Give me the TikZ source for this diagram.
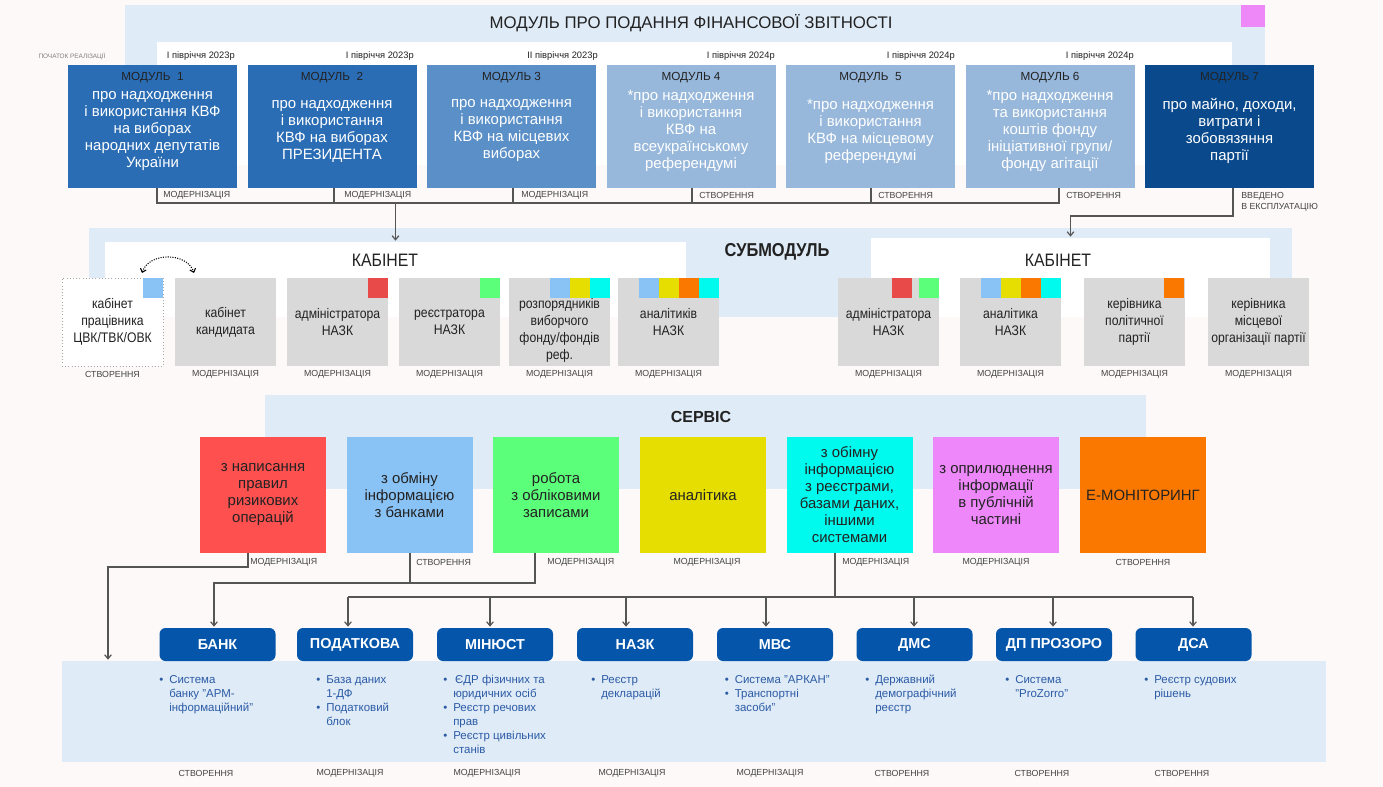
\documentclass[tikz,border=0pt]{standalone}
\usepackage{fontspec}
\setmainfont{Liberation Sans}
\newfontfamily\condf[FakeStretch=0.88]{Liberation Sans}
\usetikzlibrary{arrows.meta,calc}
\newcommand\myfs[2]{\fontsize{#1}{#2}\selectfont}
\newcommand\bul{\makebox[7.5pt][l]{•}}
\newcommand\ind{\hspace*{7.5pt}}
\newcommand\sqat[3]{\fill[#3] ($(#1.north east)+(-#2-20,0)$) rectangle ($(#1.north east)+(-#2,20)$);}
\definecolor{bgc}{HTML}{FCF9F8}
\definecolor{lbp}{HTML}{DFEBF7}
\definecolor{mA}{HTML}{2A6DB5}
\definecolor{mB}{HTML}{5A8FC8}
\definecolor{mC}{HTML}{97B8DB}
\definecolor{mD}{HTML}{0A4A8C}
\definecolor{pinkc}{HTML}{EE88F8}
\definecolor{grayb}{HTML}{D9D9D9}
\definecolor{sqblue}{HTML}{89C2F5}
\definecolor{sqred}{HTML}{E84A4A}
\definecolor{sqgreen}{HTML}{5CFF7A}
\definecolor{sqyellow}{HTML}{E5DE00}
\definecolor{sqcyan}{HTML}{00FAEE}
\definecolor{sqorange}{HTML}{FA7800}
\definecolor{sred}{HTML}{FF5050}
\definecolor{spink}{HTML}{EE88FA}
\definecolor{navyb}{HTML}{0556AA}
\definecolor{bultext}{HTML}{2C5BA6}
\definecolor{txtd}{HTML}{222222}
\definecolor{lbl}{HTML}{444444}
\definecolor{linec}{HTML}{555555}
\begin{document}
\begin{tikzpicture}[x=0.75pt,y=-0.75pt,
  modbox/.style={inner sep=0,outer sep=0,minimum width=126.75pt,minimum height=92.25pt},
  mtitle/.style={font=\myfs{8.8}{10},text=txtd,inner sep=0},
  mbody/.style={font=\myfs{11.2}{12.75},text=white,align=center,inner sep=0},
  hy/.style={font=\myfs{7}{8},text=txtd,inner sep=0},
  st/.style={font=\myfs{6.6}{8},text=lbl,inner sep=0},
  cabbox/.style={inner sep=0,outer sep=0,minimum width=75.75pt,minimum height=66pt,fill=grayb,align=center,font=\condf\myfs{10.4}{12.75},text=txtd},
  cabtext/.style={inner sep=0,align=center,font=\condf\myfs{10.4}{12.75},text=txtd},
  svcbox/.style={inner sep=0,outer sep=0,minimum width=94.5pt,minimum height=87pt,align=center,font=\myfs{11.2}{12.75},text=txtd},
  orgbox/.style={fill=navyb,rounded corners=4.5pt,inner sep=0,outer sep=0,minimum width=87pt,minimum height=24.75pt,text=white,font=\bfseries\myfs{10.8}{12}},
  bullist/.style={anchor=north west,inner sep=0,align=left,text=bultext,font=\myfs{8.6}{10.5}},
  line/.style={draw=linec,line width=0.9pt},
  arr/.style={line,-{Straight Barb[length=3pt,width=5pt]},shorten >=1pt}]
\fill[bgc] (0,0) rectangle (1383,787);
\useasboundingbox (0,0) rectangle (1383,787);

% ---------- top panel ----------
\fill[lbp] (125,5) rectangle (1265,165);
\fill[white] (157,42) rectangle (1232,165);
\fill[pinkc] (1241,5) rectangle (1265,27);
\node[font=\myfs{12.6}{14},text=txtd] (title) at (691,23) {МОДУЛЬ ПРО ПОДАННЯ ФІНАНСОВОЇ ЗВІТНОСТІ};
\node[font=\myfs{4.8}{6},text=gray] (start) at (72,56) {ПОЧАТОК РЕАЛІЗАЦІЇ};

\node[hy,anchor=east] (h1) at (235,56) {І півріччя 2023р};
\node[hy,anchor=east] (h2) at (414,56) {І півріччя 2023р};
\node[hy,anchor=east] (h3) at (598,56) {ІІ півріччя 2023р};
\node[hy,anchor=east] (h4) at (775,56) {І півріччя 2024р};
\node[hy,anchor=east] (h5) at (955,56) {І півріччя 2024р};
\node[hy,anchor=east] (h6) at (1134,56) {І півріччя 2024р};

\node[modbox,fill=mA] (m1) at (152.5,126.5) {};
\node[modbox,fill=mA] (m2) at (332,126.5) {};
\node[modbox,fill=mB] (m3) at (511.5,126.5) {};
\node[modbox,fill=mC] (m4) at (691,126.5) {};
\node[modbox,fill=mC] (m5) at (870.5,126.5) {};
\node[modbox,fill=mC] (m6) at (1050,126.5) {};
\node[modbox,fill=mD] (m7) at (1229.5,126.5) {};

\node[mtitle] (m1t) at (152.5,78) {МОДУЛЬ\ \ 1};
\node[mtitle] (m2t) at (332,78) {МОДУЛЬ\ \ 2};
\node[mtitle] (m3t) at (511.5,78) {МОДУЛЬ 3};
\node[mtitle] (m4t) at (691,78) {МОДУЛЬ 4};
\node[mtitle] (m5t) at (870.5,78) {МОДУЛЬ\ \ 5};
\node[mtitle] (m6t) at (1050,78) {МОДУЛЬ 6};
\node[mtitle] (m7t) at (1229.5,78) {МОДУЛЬ 7};

\node[mbody] (m1b) at (152.5,131) {про надходження\\і використання КВФ\\на виборах\\народних депутатів\\України};
\node[mbody] (m2b) at (332,131) {про надходження\\і використання\\КВФ на виборах\\ПРЕЗИДЕНТА};
\node[mbody] (m3b) at (511.5,131) {про надходження\\і використання\\КВФ на місцевих\\виборах};
\node[mbody] (m4b) at (691,131) {*про надходження\\і використання\\КВФ на\\всеукраїнському\\референдумі};
\node[mbody] (m5b) at (870.5,131) {*про надходження\\і використання\\КВФ на місцевому\\референдумі};
\node[mbody] (m6b) at (1050,131) {*про надходження\\та використання\\коштів фонду\\ініціативної групи/\\фонду агітації};
\node[mbody] (m7b) at (1229.5,131) {про майно, доходи,\\витрати і\\зобовязяння\\партії};

\node[st,anchor=west] (l1) at (163,195) {МОДЕРНІЗАЦІЯ};
\node[st,anchor=west] (l2) at (344,195) {МОДЕРНІЗАЦІЯ};
\node[st,anchor=west] (l3) at (521,195) {МОДЕРНІЗАЦІЯ};
\node[st,anchor=west] (l4) at (699,195) {СТВОРЕННЯ};
\node[st,anchor=west] (l5) at (878,195) {СТВОРЕННЯ};
\node[st,anchor=west] (l6) at (1066,195) {СТВОРЕННЯ};
\node[st,anchor=north west,align=left,font=\myfs{6.6}{8.3}] (l7) at (1241,192) {ВВЕДЕНО\\В ЕКСПЛУАТАЦІЮ};

% ---------- submodule ----------
\fill[lbp] (89,228) rectangle (1292,317);
\node[fill=white,inner sep=0,outer sep=0,minimum width=435.75pt,minimum height=56.25pt] (cabL) at (395.5,279.5) {};
\node[fill=white,inner sep=0,outer sep=0,minimum width=299.25pt,minimum height=59.25pt] (cabR) at (1070.5,277.5) {};
\node[font=\condf\myfs{13.5}{15},text=txtd] (cabLt) at (385,260) {КАБІНЕТ};
\node[font=\condf\myfs{13.5}{15},text=txtd] (cabRt) at (1058,260) {КАБІНЕТ};
\node[font=\bfseries\condf\myfs{14}{16},text=txtd] (sub) at (777,252) {СУБМОДУЛЬ};

\node[cabbox,fill=white,draw=gray!70,dotted] (c1) at (112.5,322) {кабінет\\працівника\\ЦВК/ТВК/ОВК};
\node[cabbox] (c2) at (225.5,322) {кабінет\\кандидата};
\node[cabbox] (c3) at (337.5,322) {адміністратора\\НАЗК};
\node[cabbox] (c4) at (449.5,322) {реєстратора\\НАЗК};
\node[cabbox] (c5) at (559.5,322) {};
\node[cabtext] (c5t) at (559.5,330.5) {розпорядників\\виборчого\\фонду/фондів\\реф.};
\node[cabbox] (c6) at (668.5,322) {аналітиків\\НАЗК};
\node[cabbox] (d1) at (888.5,322) {адміністратора\\НАЗК};
\node[cabbox] (d2) at (1010.5,322) {аналітика\\НАЗК};
\node[cabbox] (d3) at (1134.5,322) {керівника\\політичної\\партії};
\node[cabbox] (d4) at (1258.5,322) {керівника\\місцевої\\організації партії};

\sqat{c1}{0}{sqblue}
\sqat{c3}{0}{sqred}
\sqat{c4}{0}{sqgreen}
\sqat{c5}{40}{sqblue}\sqat{c5}{20}{sqyellow}\sqat{c5}{0}{sqcyan}
\sqat{c6}{60}{sqblue}\sqat{c6}{40}{sqyellow}\sqat{c6}{20}{sqorange}\sqat{c6}{0}{sqcyan}
\sqat{d1}{27}{sqred}\sqat{d1}{0}{sqgreen}
\sqat{d2}{60}{sqblue}\sqat{d2}{40}{sqyellow}\sqat{d2}{20}{sqorange}\sqat{d2}{0}{sqcyan}
\sqat{d3}{1}{sqorange}

\coordinate (yc) at (0,374);
\node[st] (lc1) at (c1 |- yc) {СТВОРЕННЯ};
\node[st] (lc2) at (c2 |- yc) {МОДЕРНІЗАЦІЯ};
\node[st] (lc3) at (c3 |- yc) {МОДЕРНІЗАЦІЯ};
\node[st] (lc4) at (c4 |- yc) {МОДЕРНІЗАЦІЯ};
\node[st] (lc5) at (c5 |- yc) {МОДЕРНІЗАЦІЯ};
\node[st] (lc6) at (c6 |- yc) {МОДЕРНІЗАЦІЯ};
\node[st] (ld1) at (d1 |- yc) {МОДЕРНІЗАЦІЯ};
\node[st] (ld2) at (d2 |- yc) {МОДЕРНІЗАЦІЯ};
\node[st] (ld3) at (d3 |- yc) {МОДЕРНІЗАЦІЯ};
\node[st] (ld4) at (d4 |- yc) {МОДЕРНІЗАЦІЯ};

\draw[densely dotted,line width=0.8pt,{Straight Barb[length=2.5pt,width=4.5pt]}-{Straight Barb[length=2.5pt,width=4.5pt]}]
  ($(c1.north east)+(-21,-5)$) .. controls ($(c1.north east)+(-14,-26)$) and ($(c2.north west)+(12,-26)$) .. ($(c2.north west)+(19,-5)$);

% ---------- service ----------
\fill[lbp] (265,395) rectangle (1146,489);
\node[font=\bfseries\myfs{12}{14},text=txtd] (svc) at (701,417) {СЕРВІС};

\node[svcbox,fill=sred] (v1) at (263,495) {з написання\\правил\\ризикових\\операцій};
\node[svcbox,fill=sqblue] (v2) at (409.5,495) {з обміну\\інформацією\\з банками};
\node[svcbox,fill=sqgreen] (v3) at (556,495) {робота\\з обліковими\\записами};
\node[svcbox,fill=sqyellow] (v4) at (703,495) {аналітика};
\node[svcbox,fill=sqcyan] (v5) at (849.5,495) {з обімну\\інформацією\\з реєстрами,\\базами даних,\\іншими\\системами};
\node[svcbox,fill=spink] (v6) at (996,495) {з оприлюднення\\інформації\\в публічній\\частині};
\node[svcbox,fill=sqorange] (v7) at (1143,495) {Е-МОНІТОРИНГ};

\node[st,anchor=west] (lv1) at (250,562) {МОДЕРНІЗАЦІЯ};
\node[st,anchor=west] (lv2) at (416,562) {СТВОРЕННЯ};
\node[st,anchor=west] (lv3) at (547,562) {МОДЕРНІЗАЦІЯ};
\node[st] (lv4) at (707,562) {МОДЕРНІЗАЦІЯ};
\node[st,anchor=west] (lv5) at (842,562) {МОДЕРНІЗАЦІЯ};
\node[st] (lv6) at (996,562) {МОДЕРНІЗАЦІЯ};
\node[st] (lv7) at (1143,562) {СТВОРЕННЯ};

% ---------- bottom ----------
\node[fill=lbp,inner sep=0,outer sep=0,minimum width=948pt,minimum height=75.75pt] (bpanel) at (694,711.5) {};

\node[orgbox] (o1) at (217.5,644.5) {БАНК};
\node[orgbox] (o2) at (355,644.5) {ПОДАТКОВА};
\node[orgbox] (o3) at (495,644.5) {МІНЮСТ};
\node[orgbox] (o4) at (635,644.5) {НАЗК};
\node[orgbox] (o5) at (775,644.5) {МВС};
\node[orgbox] (o6) at (914.5,644.5) {ДМС};
\node[orgbox] (o7) at (1054,644.5) {ДП ПРОЗОРО};
\node[orgbox] (o8) at (1193.5,644.5) {ДСА};

\node[bullist] (t1) at (159,675) {\bul Система\\\ind банку "АРМ-\\\ind інформаційний"};
\node[bullist] (t2) at (316,675) {\bul База даних\\\ind 1-ДФ\\\bul Податковий\\\ind блок};
\node[bullist] (t3) at (443,675) {\bul\,ЄДР фізичних та\\\ind юридичних осіб\\\bul Реєстр речових\\\ind прав\\\bul Реєстр цивільних\\\ind станів};
\node[bullist] (t4) at (591,675) {\bul Реєстр\\\ind декларацій};
\node[bullist] (t5) at (724.5,675) {\bul Система "АРКАН"\\\bul Транспортні\\\ind засоби"};
\node[bullist] (t6) at (865,675) {\bul Державний\\\ind демографічний\\\ind реєстр};
\node[bullist] (t7) at (1005,675) {\bul Система\\\ind "ProZorro"};
\node[bullist] (t8) at (1144,675) {\bul Реєстр судових\\\ind рішень};

\node[st] (lo1) at (206,773) {СТВОРЕННЯ};
\node[st] (lo2) at (350,773) {МОДЕРНІЗАЦІЯ};
\node[st] (lo3) at (487,773) {МОДЕРНІЗАЦІЯ};
\node[st] (lo4) at (632,773) {МОДЕРНІЗАЦІЯ};
\node[st] (lo5) at (770,773) {МОДЕРНІЗАЦІЯ};
\node[st] (lo6) at (902,773) {СТВОРЕННЯ};
\node[st] (lo7) at (1042,773) {СТВОРЕННЯ};
\node[st] (lo8) at (1182,773) {СТВОРЕННЯ};

% ---------- connectors ----------
\coordinate (b1) at (157,203);
\coordinate (b2) at (334,203);
\coordinate (b3) at (513,203);
\coordinate (b4) at (692,203);
\coordinate (b5) at (871,203);
\coordinate (b6) at (1059,203);
\draw[line] (m1.south -| b1) -- (b1) -- (b6) -- (m6.south -| b6);
\draw[line] (m2.south -| b2) -- (b2);
\draw[line] (m3.south -| b3) -- (b3);
\draw[line] (m4.south -| b4) -- (b4);
\draw[line] (m5.south -| b5) -- (b5);
\draw[arr] (cabL.north |- b1) -- (cabL.north);
\coordinate (b7) at (1233,216);
\draw[arr] (m7.south -| b7) -- (b7) -| (cabR.north);

\coordinate (r1) at (248,567);
\coordinate (r0) at (108,567);
\draw[arr] (v1.south -| r1) -- (r1) -- (r0) -- (bpanel.north -| r0);
\coordinate (g2) at (410,583);
\coordinate (g3) at (535,583);
\coordinate (g0) at (214,583);
\draw[line] (v2.south -| g2) -- (g2);
\draw[arr] (v3.south -| g3) -- (g3) -- (g0) -- (o1.north -| g0);
\coordinate (k5) at (835,597);
\coordinate (k2) at (348,597);
\coordinate (k3) at (490,597);
\coordinate (k4) at (626,597);
\coordinate (k6) at (766,597);
\coordinate (k7) at (914,597);
\coordinate (k8) at (1053,597);
\coordinate (k9) at (1193,597);
\draw[line] (v5.south -| k5) -- (k5);
\draw[line] (k2) -- (k9);
\draw[arr] (k2) -- (o2.north -| k2);
\draw[arr] (k3) -- (o3.north -| k3);
\draw[arr] (k4) -- (o4.north -| k4);
\draw[arr] (k6) -- (o5.north -| k6);
\draw[arr] (k7) -- (o6.north -| k7);
\draw[arr] (k8) -- (o7.north -| k8);
\draw[arr] (k9) -- (o8.north -| k9);
\end{tikzpicture}
\end{document}
